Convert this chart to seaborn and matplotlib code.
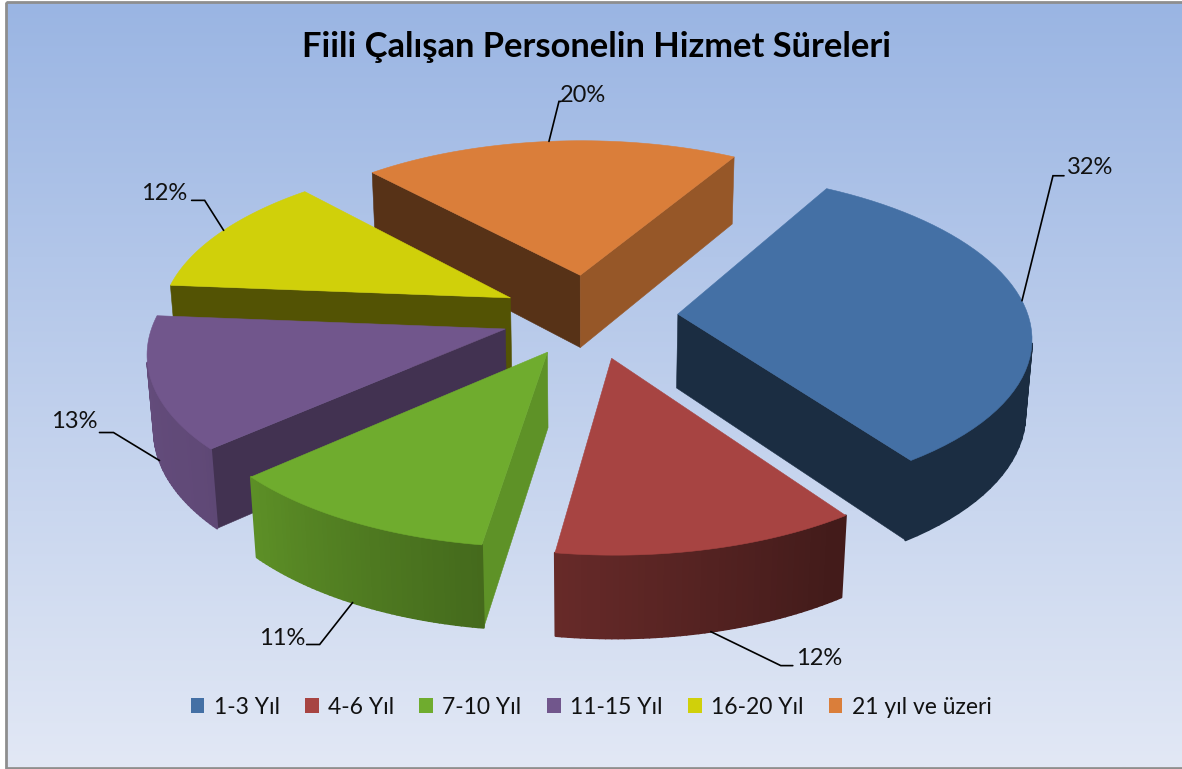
import numpy as np, matplotlib
matplotlib.use("Agg")
import matplotlib.pyplot as plt
import seaborn as sns
from matplotlib.patches import Polygon, Patch, Rectangle
from matplotlib.colors import LinearSegmentedColormap

title = "Fiili Çalışan Personelin Hizmet Süreleri"
categories = ["1-3 Yıl", "4-6 Yıl", "7-10 Yıl", "11-15 Yıl", "16-20 Yıl", "21 yıl ve üzeri"]
values = [32, 12, 11, 13, 12, 20]
hex_colors = ["#4470A5", "#A74442", "#6FAC2E", "#71568C", "#D0D00A", "#DA7E3A"]

# 3-D pie view (fitted to the picture)
CX, CY, FOCAL, DIST, TILT, HEIGHT, START = 589.69, 315.85, 2495.13, 7.122, 0.4767, 0.2413, 0.5216
EXPLODE = [0.2523, 0.2626, 0.2495, 0.2517, 0.2557, 0.2622]
DRAW_ORDER = [5, 4, 3, 2, 1, 0]
START_SHADE = [0.40, 0.40, 0.85, 0.58, 0.40, 0.40]
END_SHADE = [0.40, 0.64, 0.85, 0.85, 0.69, 0.69]
ARC_DEG = [0, 148, 191, 231, 279, 360]
ARC_SHADE = [0.41, 0.40, 0.63, 0.85, 0.90, 0.90]
# leader: fraction along arc, on bottom edge?, elbow offset, end offset, label offset
LEADERS = [(0.48, 0, (31, -125), (42, -125), (68, -133)),
           (0.49, 1, (70, 34), (82, 34), (108, 27)),
           (0.51, 1, (-33, 42), (-46, 42), (-70, 36)),
           (0.50, 1, (-46, -28), (-60, -28), (-85, -39)),
           (0.52, 0, (-19, -30), (-32, -30), (-59, -37)),
           (0.50, 0, (10, -40), (12, -40), (34, -46))]

sns.set_theme(style="white")
plt.rcParams['font.family'] = ['Lato', 'DejaVu Sans']
palette = sns.color_palette(hex_colors)

fr = np.array(values) / sum(values)
edges = START + 2 * np.pi * np.concatenate([[0], np.cumsum(fr)])


def project(i, th, r, bottom):
    mid = (edges[i] + edges[i + 1]) / 2
    x = r * np.sin(th) + EXPLODE[i] * np.sin(mid)
    y = r * np.cos(th) + EXPLODE[i] * np.cos(mid)
    z = -HEIGHT * bottom
    w = DIST + y * np.cos(TILT) - z * np.sin(TILT)
    return np.array([CX + FOCAL * x / w, CY - FOCAL * (y * np.sin(TILT) + z * np.cos(TILT)) / w])


def area(q):
    q = np.array(q)
    x, y = q[:, 0], q[:, 1]
    return 0.5 * np.sum(x * np.roll(y, -1) - np.roll(x, -1) * y)


def shade(c, f):
    return tuple(min(1, v * f) for v in c)


fig = plt.figure(figsize=(11.82, 7.69), dpi=100, facecolor="white")
ax = fig.add_axes([0, 0, 1, 1])
bg = LinearSegmentedColormap.from_list("bg", ["#9AB5E3", "#E2E8F5"])
ax.imshow(np.linspace(0, 1, 256)[:, None], cmap=bg, extent=[6, 1182, 767, 2], aspect="auto", zorder=0)
ax.set_xlim(0, 1182)
ax.set_ylim(769, 0)
ax.axis("off")
ax.add_patch(Rectangle((5.5, 1.5), 1180, 766, fc="none", ec="#8E8E8E", lw=2, zorder=1))

z = 2
for i in DRAW_ORDER:
    col = palette[i]
    ths = np.linspace(edges[i], edges[i + 1], 50)
    apex_t, apex_b = project(i, 0, 0, 0), project(i, 0, 0, 1)
    rim_t = [project(i, t, 1, 0) for t in ths]
    rim_b = [project(i, t, 1, 1) for t in ths]
    # radial walls
    for q, f in (([apex_t, rim_t[0], rim_b[0], apex_b], START_SHADE[i]),
                 ([rim_t[-1], apex_t, apex_b, rim_b[-1]], END_SHADE[i])):
        if area(q) < 0:
            c = shade(col, f)
            ax.add_patch(Polygon(q, fc=c, ec=c, lw=0.4, zorder=z))
            z += 1
    # curved wall
    for k in range(len(ths) - 1):
        q = [rim_t[k], rim_t[k + 1], rim_b[k + 1], rim_b[k]]
        if area(q) < 0:
            deg = np.degrees((ths[k] + ths[k + 1]) / 2) % 360
            c = shade(col, np.interp(deg, ARC_DEG, ARC_SHADE))
            ax.add_patch(Polygon(q, fc=c, ec=c, lw=1.6, joinstyle="round", zorder=z))
    z += 1
    ax.add_patch(Polygon([apex_t] + rim_t, fc=col, ec=col, lw=0.4, zorder=z))
    z += 1

for i, (f, b, elbow, end, lab) in enumerate(LEADERS):
    a = project(i, edges[i] + f * (edges[i + 1] - edges[i]), 1, b)
    ax.plot([a[0], a[0] + elbow[0], a[0] + end[0]], [a[1], a[1] + elbow[1], a[1] + end[1]],
            color="black", lw=1.2, zorder=50, solid_joinstyle="miter")
    ax.text(a[0] + lab[0], a[1] + lab[1], f"{values[i]}%", ha="center", va="center",
            fontsize=17, color="#111111", zorder=51)

ax.text(596, 47, title, ha="center", va="center", fontsize=24.8, fontweight="bold", color="black", zorder=51)

handles = [Patch(fc=c, ec="none", label=n) for c, n in zip(palette, categories)]
leg = ax.legend(handles=handles, ncol=6, loc="center", bbox_to_anchor=(591 / 1182, 1 - 707 / 769),
                bbox_transform=fig.transFigure, frameon=False, fontsize=16.5, handlelength=0.6, handleheight=0.6,
                handletextpad=0.4, columnspacing=1.11, borderpad=0, labelcolor="#111111")
leg.set_zorder(52)
fig.savefig("out.png", dpi=100, facecolor="white")
